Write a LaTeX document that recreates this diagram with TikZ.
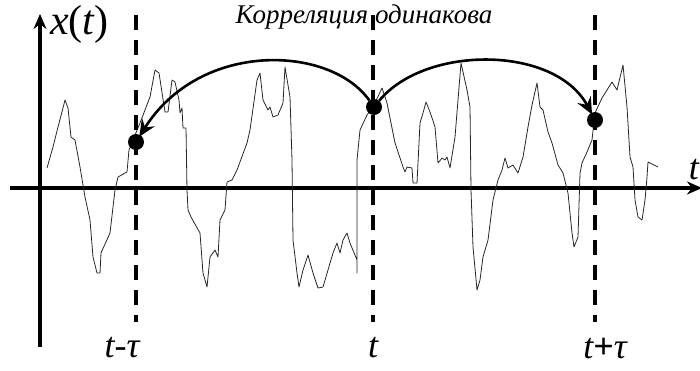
\documentclass[tikz,border=0pt]{standalone}
\usepackage{fontspec}
\setmainfont{Liberation Serif}
\usetikzlibrary{arrows.meta}

\begin{document}
\begin{tikzpicture}[
    x=1pt, y=-1pt,
    axis/.style={
        -{Stealth[length=15pt,width=13pt]},
        line width=4pt
    },
    marker/.style={
        line width=4pt,
        dash pattern=on 15pt off 10pt
    },
    signal/.style={
        line width=0.8pt,
        black!85,
        line join=round
    },
    dot/.style={
        circle,
        fill=black,
        inner sep=0pt,
        minimum size=16pt
    },
    corr/.style={
        -{Stealth[length=17pt,width=15pt,inset=6pt]},
        line width=2.6pt,
        shorten >=-2pt
    },
    big/.style={font=\fontsize{36}{40}\selectfont\itshape},
    huge/.style={font=\fontsize{42}{46}\selectfont\itshape},
    title/.style={font=\fontsize{27}{31}\selectfont\itshape}
]
\useasboundingbox (0,0) rectangle (700,370);

% axes
\coordinate (xbeg) at (10,188);
\coordinate (xend) at (702,188);
\coordinate (ybeg) at (40,347);
\coordinate (yend) at (40,14);
\draw[axis] (xbeg) -- (xend);
\draw[axis] (ybeg) -- (yend);
\node[huge, anchor=west, inner sep=0pt] (xlab) at (50,24) {x\upshape(\itshape t\upshape)};
\node[big, anchor=east, inner sep=1pt] (tlab) at (700,170) {t};

% the random process
\draw[signal] plot coordinates {
(47,168) (53,147) (58,127) (63,108) (65,100) (68,108) (71,137) (75,140)
(80,167) (85,197) (90,220) (93,257) (97,273) (100,273) (101,253) (110,233)
(115,190) (118,177) (127,172) (129,150) (133,140) (140,123) (150,97) (155,70)
(159,73) (165,112) (168,112) (172,80) (175,82) (179,100) (180,113) (182,108)
(183,128) (186,128) (187,190) (188,210) (191,217) (200,233) (203,273) (207,287)
(210,257) (215,250) (218,257) (220,220) (225,210) (227,182) (232,180) (237,170)
(247,143) (250,130) (257,80) (260,73) (263,100) (268,110) (270,107) (273,117)
(278,115) (283,103) (285,67) (290,97) (292,160) (293,240) (297,273) (299,287)
(303,270) (308,255) (313,273) (318,288) (323,287) (328,270) (333,253) (337,243)
(340,253) (343,240) (347,233) (350,243) (357,260) (357,273) (357,160) (360,130)
(367,115) (373,107) (382,88) (387,103) (395,143) (403,167) (405,172) (407,167)
(412,168) (413,183) (417,183) (420,123) (423,113) (426,102) (430,112) (435,127)
(438,163) (442,158) (445,160) (447,157) (450,168) (455,137) (458,100) (461,63)
(467,90) (470,107) (471,190) (473,247) (477,290) (480,280) (483,257) (488,240)
(493,200) (498,180) (502,170) (505,158) (508,168) (513,165) (518,173) (523,157)
(528,127) (532,105) (537,83) (540,107) (543,110) (548,132) (552,143) (558,165)
(563,173) (568,193) (572,233) (574,247) (578,237) (580,173) (582,163) (587,152)
(592,140) (595,113) (602,98) (612,82) (617,90) (623,65) (627,107) (630,157)
(633,167) (635,200) (638,217) (642,220) (645,200) (647,177) (648,162) (658,167)
};

% time markers
\coordinate (m1top) at (136,15);
\coordinate (m1bot) at (136,322);
\coordinate (m2top) at (373,15);
\coordinate (m2bot) at (373,322);
\coordinate (m3top) at (595,15);
\coordinate (m3bot) at (595,322);
\draw[marker] (m1top) -- (m1bot);
\draw[marker] (m2top) -- (m2bot);
\draw[marker] (m3top) -- (m3bot);

\node[big] (lminus) at (122,348) {t-τ};
\node[big] (lnow) at (373,348) {t};
\node[big] (lplus) at (605,348) {t\upshape\bfseries +\mdseries\itshape τ};

% points and correlation arcs
\node[dot] (pminus) at (136,142) {};
\node[dot] (pnow) at (374,107) {};
\node[dot] (pplus) at (595,120) {};

\draw[corr] (pnow) .. controls (330,45) and (200,40) .. (pminus);
\draw[corr] (pnow) .. controls (425,45) and (555,45) .. (pplus);

\node[title] (note) at (364,17) {Корреляция одинакова};

\end{tikzpicture}
\end{document}
